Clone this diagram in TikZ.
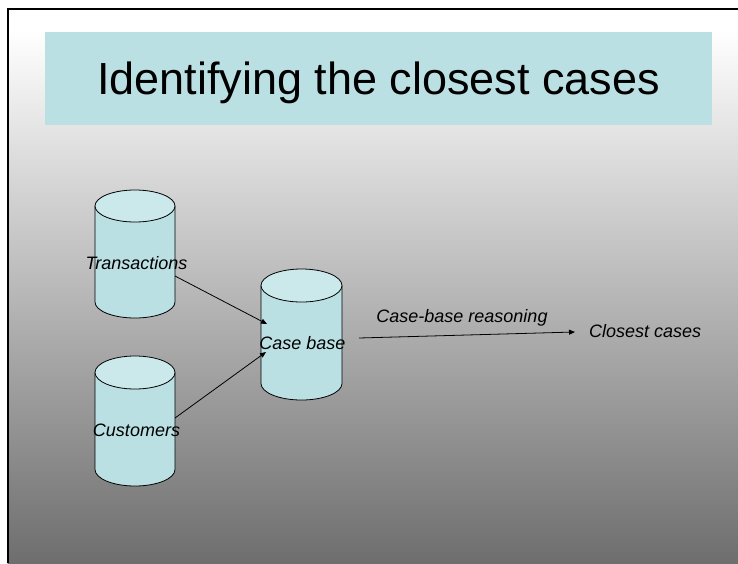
\documentclass[tikz,border=0pt]{standalone}
\usepackage{fontspec}
\setmainfont{Liberation Sans}
\usetikzlibrary{arrows.meta,calc}
\definecolor{slidebg}{HTML}{6E6E6E}
\definecolor{titlefill}{HTML}{BBE0E3}
\definecolor{cylfill}{HTML}{BBE0E3}
\definecolor{cyltopfill}{HTML}{CBE8EA}
\tikzset{
  cylbox/.style={shape=rectangle, inner sep=0pt, outer sep=0pt},
  lbl/.style={inner sep=0pt, anchor=base, font=\fontsize{18}{21}\selectfont\itshape},
  conn/.style={line width=0.8pt, -{Triangle[length=6pt,width=5pt]}},
  cyloutline/.style={line width=0.8pt, draw=black},
}
\newcommand{\cylshape}[3]{%
  % #1 node, #2 x radius, #3 y radius
  \fill[cylfill] ([yshift=-#3]#1.north west) -- ([yshift=#3]#1.south west)
     arc[start angle=180,end angle=360,x radius=#2,y radius=#3]
     -- ([yshift=-#3]#1.north east)
     arc[start angle=0,end angle=180,x radius=#2,y radius=#3] -- cycle;
  \draw[cyloutline] ([yshift=-#3]#1.north west) -- ([yshift=#3]#1.south west)
     arc[start angle=180,end angle=360,x radius=#2,y radius=#3]
     -- ([yshift=-#3]#1.north east);
  \filldraw[cyloutline, fill=cyltopfill] ([yshift=-#3]#1.north) ellipse[x radius=#2, y radius=#3];
}
\begin{document}
\begin{tikzpicture}[x=1pt,y=-1pt]
\useasboundingbox (0,0) rectangle (738,563);
% background
\fill[white] (0,0) rectangle (738,563);
\fill[white] (7.5,9) rectangle (738,30);
\shade[top color=white, bottom color=slidebg] (7.5,30) rectangle (738,563);
\draw[line width=2pt] (7.5,563) -- (7.5,9) -- (738,9);
% title
\fill[titlefill] (45,32) rectangle (712,125);
\node[anchor=base, inner sep=0pt, font=\fontsize{45}{54}\selectfont] (title) at (378.5,94.5) {Identifying the closest cases};
% cylinders
\node[cylbox, minimum width=80pt, minimum height=128pt] (trans) at (135,254) {};
\node[cylbox, minimum width=80pt, minimum height=130pt] (cust) at (135,421) {};
\node[cylbox, minimum width=81pt, minimum height=131pt] (cbase) at (301.5,334.5) {};
\cylshape{trans}{40pt}{16pt}
\cylshape{cust}{40pt}{16.5pt}
\cylshape{cbase}{40.5pt}{16.5pt}
% labels
\node[lbl] (translbl) at (136.5,269) {Transactions};
\node[lbl] (custlbl) at (136.5,436) {Customers};
\node[lbl] (cbaselbl) at (302.5,349) {Case base};
\node[lbl] (cbr) at (462,322) {Case-base reasoning};
\node[lbl, anchor=base west] (closest) at (589,337) {Closest cases};
% connectors
\draw[conn] ([yshift=-22pt]trans.east) -- ([xshift=6pt,yshift=10.5pt]cbase.west);
\draw[conn] ([yshift=3pt]cust.east) -- ([xshift=5pt,yshift=-17.5pt]cbase.west);
\draw[conn] ([xshift=17pt,yshift=-3.5pt]cbase.east) -- ([xshift=-14pt,yshift=5pt]closest.base west);
\end{tikzpicture}
\end{document}
